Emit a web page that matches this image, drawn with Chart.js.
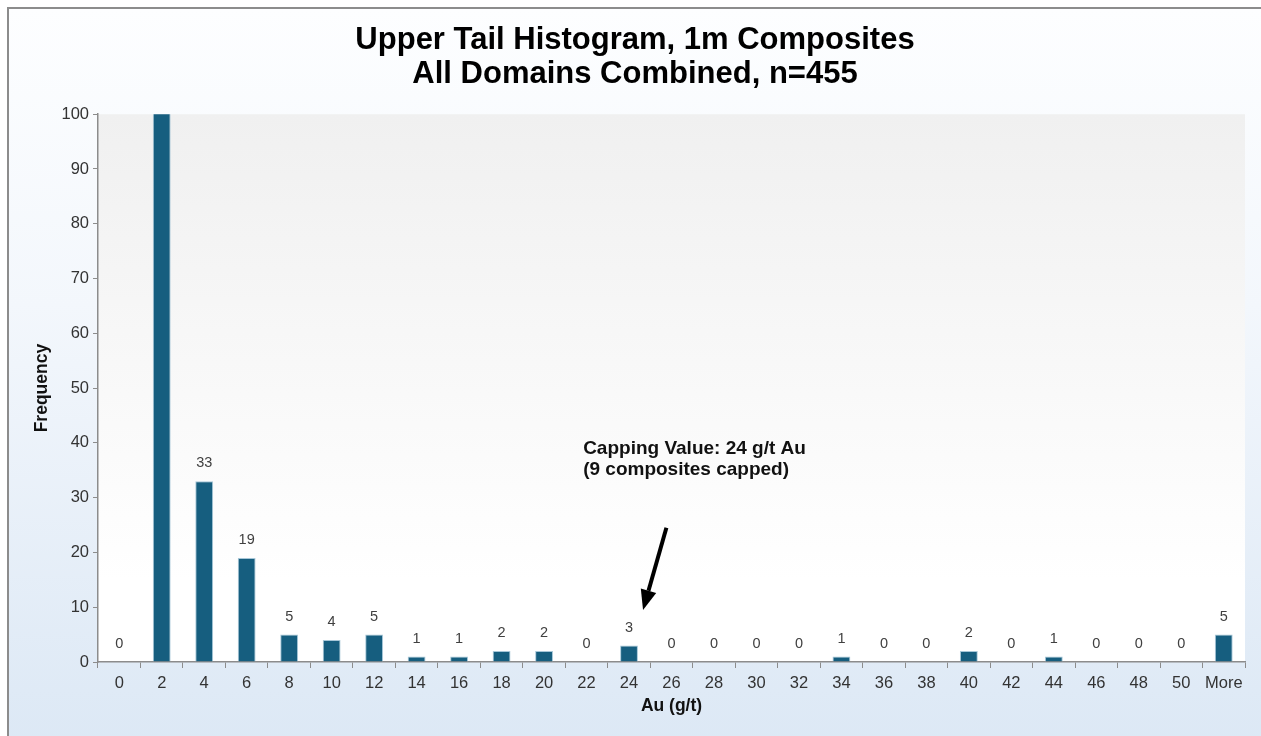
<!DOCTYPE html>
<html>
<head>
<meta charset="utf-8">
<script src="https://cdn.jsdelivr.net/npm/chart.js@4.4.1/dist/chart.umd.min.js"></script>
<style>
  html, body { margin: 0; padding: 0; width: 1261px; height: 736px; overflow: hidden; background: #fff; }
  #frame {
    position: absolute; left: 7px; top: 7px; width: 1270px; height: 740px;
    border-top: 2px solid #8c8c8c; border-left: 2px solid #8c8c8c;
    background: linear-gradient(to bottom, #fdfeff 0%, #f3f7fc 40%, #dce8f5 100%);
  }
  #wrap { position: absolute; left: 0; top: 0; width: 1261px; height: 736px; }
</style>
</head>
<body>
<div id="frame"></div>
<div id="wrap"><canvas id="chart"></canvas></div>
<script>
// bins (g/t Au) and frequencies
const categories = ['0','2','4','6','8','10','12','14','16','18','20','22','24','26','28','30','32','34','36','38','40','42','44','46','48','50','More'];
const frequency = [0, 371, 33, 19, 5, 4, 5, 1, 1, 2, 2, 0, 3, 0, 0, 0, 0, 1, 0, 0, 2, 0, 1, 0, 0, 0, 5];
const yMax = 100;
const yStep = 10;
const titleLines = ['Upper Tail Histogram, 1m Composites', 'All Domains Combined, n=455'];
const noteLines = ['Capping Value: 24 g/t Au', '(9 composites capped)'];
// note anchor and arrow in axis units (category index, frequency)
const notePos = { x: 10.92, y: 39 };
const arrowFrom = { x: 12.88, y: 24.5 };
const arrowTo = { x: 12.33, y: 9.5 };

const FONT = '"Liberation Sans", Arial, sans-serif';

const plotBg = {
  id: 'plotBg',
  beforeDraw(chart) {
    const { ctx, chartArea: a } = chart;
    const g = ctx.createLinearGradient(0, a.top, 0, a.bottom);
    g.addColorStop(0, '#f0f0f0');
    g.addColorStop(0.85, '#ffffff');
    g.addColorStop(1, '#ffffff');
    ctx.save();
    ctx.fillStyle = g;
    ctx.fillRect(a.left, a.top, a.right - a.left, a.bottom - a.top);
    ctx.restore();
  }
};

const valueLabels = {
  id: 'valueLabels',
  afterDatasetsDraw(chart) {
    const { ctx } = chart;
    const meta = chart.getDatasetMeta(0);
    ctx.save();
    ctx.font = '14.5px ' + FONT;
    ctx.fillStyle = '#404040';
    ctx.textAlign = 'center';
    ctx.textBaseline = 'middle';
    meta.data.forEach((bar, i) => {
      const v = frequency[i];
      if (v > yMax) return;
      ctx.fillText(String(v), bar.x, bar.y - 18);
    });
    ctx.restore();
  }
};

const capNote = {
  id: 'capNote',
  afterDatasetsDraw(chart) {
    const { ctx, scales: { x, y } } = chart;
    ctx.save();
    ctx.font = 'bold 19px ' + FONT;
    ctx.fillStyle = '#111';
    ctx.textAlign = 'left';
    ctx.textBaseline = 'middle';
    const tx = x.getPixelForValue(notePos.x), ty = y.getPixelForValue(notePos.y);
    noteLines.forEach((t, i) => ctx.fillText(t, tx, ty + i * 21));

    const x1 = x.getPixelForValue(arrowFrom.x), y1 = y.getPixelForValue(arrowFrom.y);
    const x2 = x.getPixelForValue(arrowTo.x), y2 = y.getPixelForValue(arrowTo.y);
    const ang = Math.atan2(y2 - y1, x2 - x1);
    const head = 20, half = 8;
    const bx = x2 - head * Math.cos(ang), by = y2 - head * Math.sin(ang);
    ctx.strokeStyle = '#000';
    ctx.lineWidth = 4;
    ctx.beginPath();
    ctx.moveTo(x1, y1);
    ctx.lineTo(bx, by);
    ctx.stroke();
    ctx.fillStyle = '#000';
    ctx.beginPath();
    ctx.moveTo(x2, y2);
    ctx.lineTo(bx + half * Math.sin(ang), by - half * Math.cos(ang));
    ctx.lineTo(bx - half * Math.sin(ang), by + half * Math.cos(ang));
    ctx.closePath();
    ctx.fill();
    ctx.restore();
  }
};

new Chart(document.getElementById('chart'), {
  type: 'bar',
  data: {
    labels: categories,
    datasets: [{
      label: 'Frequency',
      data: frequency,
      backgroundColor: '#165e7f',
      borderColor: 'rgba(130,175,200,0.7)',
      borderWidth: 1,
      barPercentage: 0.42,
      categoryPercentage: 1
    }]
  },
  options: {
    responsive: true,
    maintainAspectRatio: false,
    animation: false,
    layout: { padding: { left: 25, right: 16, top: 0, bottom: 0 } },
    plugins: {
      legend: { display: false },
      tooltip: { enabled: false },
      title: {
        display: true,
        text: titleLines,
        color: '#000',
        font: { family: FONT, size: 31, weight: 'bold', lineHeight: 1.1 },
        padding: { top: 23, bottom: 23 }
      }
    },
    scales: {
      x: {
        afterFit: s => { s.height = 74; },
        grid: { drawOnChartArea: false, drawTicks: true, tickLength: 6, color: '#8c8c8c', offset: true },
        border: { color: '#8c8c8c', width: 1.5 },
        ticks: { color: '#333', font: { family: FONT, size: 16.5 }, padding: 6, maxRotation: 0, autoSkip: false },
        title: { display: true, text: 'Au (g/t)', color: '#111', font: { family: FONT, size: 17.5, weight: 'bold' }, padding: { top: 0, bottom: 19.5 } }
      },
      y: {
        min: 0,
        max: yMax,
        afterFit: s => { s.width = 73; },
        grid: { drawOnChartArea: false, drawTicks: true, tickLength: 5, color: '#8c8c8c' },
        border: { color: '#8c8c8c', width: 1.5 },
        ticks: { stepSize: yStep, color: '#333', font: { family: FONT, size: 16.5 }, padding: 4 },
        title: { display: true, text: 'Frequency', color: '#111', font: { family: FONT, size: 17.5, weight: 'bold' }, padding: { top: 6.5, bottom: 0 } }
      }
    }
  },
  plugins: [plotBg, valueLabels, capNote]
});
</script>
</body>
</html>
